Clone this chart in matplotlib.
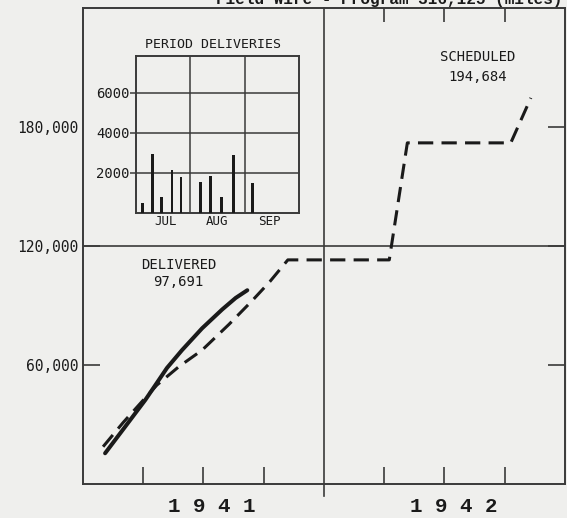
#!/usr/bin/env python
import matplotlib
matplotlib.use('Agg')
import matplotlib.pyplot as plt
import numpy as np

# cumulative field wire, months counted from 1 Jan 1941
delivered_month = [1.1, 2.1, 3.1, 3.68, 4.18, 4.93, 5.93, 6.93, 7.6, 8.18]
delivered_miles = [15500, 28900, 42350, 51000, 58500, 67500, 78500, 88000,
                   93800, 97691]

scheduled_month = [1.0, 2.0, 3.1, 3.68, 4.77, 5.93, 7.27, 8.43, 9.3, 10.2,
                   15.25, 16.15, 21.3, 22.3]
scheduled_miles = [18800, 31000, 43400, 49900, 59150, 67500, 80500, 92500,
                   102000, 113000, 113000, 172000, 172000, 194684]

# period deliveries (inset), months counted from 1 Jul 1941
period_month = [0.12, 0.30, 0.47, 0.66, 0.83, 1.19, 1.37, 1.57, 1.79, 2.14]
period_miles = [490, 2950, 820, 2160, 1800, 1560, 1850, 820, 2920, 1480]
period_labels = ['JUL', 'AUG', 'SEP']

ytick_vals = [60000, 120000, 180000]
ytick_labels = ['60,000', '120,000', '180,000']
inset_ticks = [2000, 4000, 6000]

BG = '#efefed'
INK = '#1a1a1a'
LINE = '#3a3a3a'
MONO = 'DejaVu Sans Mono'

fig = plt.figure(figsize=(5.67, 5.18), dpi=100, facecolor=BG)
ax = fig.add_axes([83 / 567, 1 - 484 / 518, 482 / 567, 476 / 518])
ax.set_facecolor(BG)
ax.set_xlim(0, 24)
ax.set_ylim(0, 240000)
for s in ax.spines.values():
    s.set_color(LINE)
    s.set_linewidth(1.4)

# dividers
ax.axhline(120000, color=LINE, lw=1.2, zorder=1)
ax.axvline(12, ymin=-0.025, ymax=1, color=LINE, lw=1.2, clip_on=False, zorder=1)

# ticks
ax.set_xticks([3, 6, 9, 15, 18, 21])
ax.set_xticklabels([])
ax.tick_params(axis='x', direction='in', length=12, width=1.2, color=LINE)
top = ax.secondary_xaxis('top')
top.set_xticks([15, 18, 21])
top.set_xticklabels([])
top.tick_params(direction='in', length=10, width=1.2, color=LINE)
top.spines['top'].set_visible(False)

ax.set_yticks(ytick_vals)
ax.set_yticklabels(ytick_labels, family=MONO, fontsize=10.5, color=INK)
ax.tick_params(axis='y', direction='in', length=12, width=1.2, color=LINE,
               right=True, pad=3)
ax.yaxis.get_major_ticks()[2].tick1line.set_visible(False)

# curves
ax.plot(delivered_month, delivered_miles, color=INK, lw=2.9,
        solid_capstyle='round', solid_joinstyle='round', zorder=3)
ax.plot(scheduled_month, scheduled_miles, color=INK, lw=2.2,
        dashes=(5, 2.7), zorder=3)

# annotations
ax.text(4.75, 110400, 'DELIVERED', ha='center', va='center',
        family=MONO, fontsize=10, color=INK)
ax.text(4.75, 101800, '97,691', ha='center', va='center',
        family=MONO, fontsize=10, color=INK)
ax.text(19.65, 215300, 'SCHEDULED', ha='center', va='center',
        family=MONO, fontsize=10, color=INK)
ax.text(19.65, 205200, '194,684', ha='center', va='center',
        family=MONO, fontsize=10, color=INK)

for xm, yr in [(6.4, '1 9 4 1'), (18.45, '1 9 4 2')]:
    ax.text(xm, -11100, yr, ha='center', va='center', family='Liberation Mono',
            fontweight='bold', fontsize=15, color=INK, clip_on=False)

# title is cropped at the top edge, as in the scanned original
fig.text(389 / 567, 1 - 4 / 518, 'Field Wire - Program 316,125 (miles)',
         ha='center', va='baseline', family='Liberation Mono',
         fontweight='bold', fontsize=11.5, color=INK)

# inset: period deliveries
axi = fig.add_axes([136 / 567, 1 - 213 / 518, 163 / 567, 157 / 518])
axi.set_facecolor(BG)
axi.set_xlim(0, 3)
axi.set_ylim(0, 7850)
for s in axi.spines.values():
    s.set_color(LINE)
    s.set_linewidth(1.4)
for v in inset_ticks:
    axi.axhline(v, color=LINE, lw=1.1, zorder=1)
for v in [1, 2]:
    axi.axvline(v, color=LINE, lw=1.1, zorder=1)
axi.bar(period_month, period_miles, width=0.05, color=INK, zorder=3)
axi.set_yticks(inset_ticks)
axi.set_yticklabels([str(v) for v in inset_ticks], family=MONO,
                    fontsize=10, color=INK)
axi.tick_params(axis='y', direction='out', length=4, width=1.1,
                color=LINE, pad=0.5)
axi.set_xticks([0.55, 1.5, 2.45])
axi.set_xticklabels(period_labels, family=MONO, fontsize=9, color=INK)
axi.tick_params(axis='x', length=0, pad=1.5)
axi.text(0.47, 1.03, 'PERIOD DELIVERIES', transform=axi.transAxes,
         ha='center', va='bottom', family=MONO, fontsize=9.5, color=INK)

plt.savefig('out.png', dpi=100, facecolor=BG)
